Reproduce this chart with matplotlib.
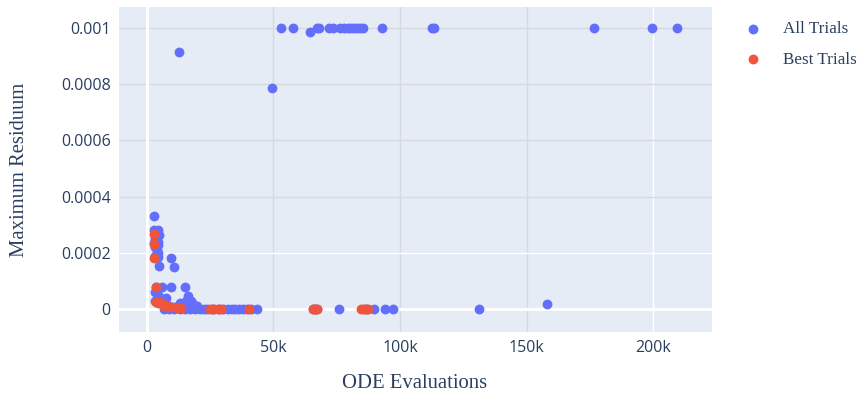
import matplotlib
matplotlib.use("Agg")
import matplotlib.pyplot as plt
import numpy as np

# ---- data (x in ODE evaluations, y = maximum residuum) ----
all_x_k = [
    52.9, 57.6, 67.4, 68.2, 72.1, 73.4, 76.4, 78.0, 79.3, 80.5, 81.7, 83.0, 84.3, 85.2,
    92.8, 112.5, 113.4, 176.6, 199.6, 209.2, 64.5, 12.7, 49.5,
    2.9, 3.0, 4.5, 3.2, 4.8, 3.5, 4.5, 3.0, 4.5, 3.5, 4.0, 4.5, 3.2, 4.3, 4.8, 9.7, 10.7,
    3.8, 6.2, 9.7, 15.0, 3.5, 4.5, 7.8, 16.3, 17.5, 15.5, 18.0, 20.0, 13.0, 6.0, 9.0, 14.5,
    3.5, 4.5, 16.8, 19.0, 11.0,
    7.0, 9.0, 11.0, 13.0, 15.0, 17.0, 19.0, 21.0, 22.5, 24.0, 26.0, 28.0, 30.0, 32.0,
    33.5, 35.0, 36.5, 38.0, 39.5, 41.0, 43.4,
    65.8, 66.5, 67.3, 76.0, 86.0, 87.0, 89.9, 94.1, 97.4, 131.3, 158.0,
]
all_y = [
    0.001, 0.001, 0.001, 0.001, 0.001, 0.001, 0.001, 0.001, 0.001, 0.001, 0.001, 0.001, 0.001, 0.001,
    0.001, 0.001, 0.001, 0.001, 0.001, 0.001, 0.000984, 0.000915, 0.000786,
    0.000330, 0.000280, 0.000280, 0.000265, 0.000262, 0.000250, 0.000240, 0.000235, 0.000228,
    0.000220, 0.000210, 0.000200, 0.000190, 0.000185, 0.000153, 0.000180, 0.000150,
    0.000079, 0.000079, 0.000079, 0.000079, 0.000060, 0.000050, 0.000040, 0.000045, 0.000030,
    0.000030, 0.000020, 0.000010, 0.000020, 0.000030, 0.000010, 0.000010,
    0.000030, 0.000020, 0.000015, 0.000005, 0.000008,
    0.000001, 0.000001, 0.000001, 0.000001, 0.000001, 0.000001, 0.000001, 0.000001, 0.000001,
    0.000001, 0.000001, 0.000001, 0.000001, 0.000001, 0.000001, 0.000001, 0.000001, 0.000001,
    0.000001, 0.000001, 0.000001,
    0.0, 0.0, 0.0, 0.0, 0.0, 0.0, 0.0, 0.0, 0.0, 0.0, 0.000018,
]
best_x_k = [
    2.9, 2.9, 2.9, 3.8, 3.8, 5.0, 5.8, 7.0, 7.7, 9.7, 12.4, 13.5,
    25.0, 25.7, 26.5, 28.7, 29.5, 40.4, 65.6, 66.3, 67.3, 84.5, 85.5, 86.5, 87.5,
]
best_y = [
    0.000267, 0.000230, 0.000183, 0.000079, 0.000026, 0.000025, 0.000020, 0.000010,
    0.000015, 0.000006, 0.000002, 0.000002,
    0.0, 0.0, 0.0, 0.0, 0.0, 0.0, 0.0, 0.0, 0.0, 0.0, 0.0, 0.0, 0.0,
]
x_ticks = [0, 50000, 100000, 150000, 200000]
x_tick_labels = ["0", "50k", "100k", "150k", "200k"]
y_ticks = [0, 0.0002, 0.0004, 0.0006, 0.0008, 0.001]
y_tick_labels = ["0", "0.0002", "0.0004", "0.0006", "0.0008", "0.001"]

all_x = np.array(all_x_k) * 1000
best_x = np.array(best_x_k) * 1000

W, H = 859, 398
fig = plt.figure(figsize=(W / 100, H / 100), dpi=100)
ax = fig.add_axes([119 / W, 1 - 331.7 / H, (711.7 - 119) / W, (331.7 - 7) / H])
ax.set_facecolor("#E5ECF6")
for s in ax.spines.values():
    s.set_visible(False)

ax.set_xlim(-10900, 223000)
ax.set_ylim(-0.0000808, 0.0010747)

# grid lines
gray = "#d6d9de"
for xv, c in zip([50000, 100000, 150000, 200000], [gray, gray, gray, "white"]):
    ax.axvline(xv, color=c, lw=1.0, zorder=0.5)
for yv, c in zip([0.0002, 0.0004, 0.0006, 0.0008, 0.001], ["white", gray, gray, gray, gray]):
    ax.axhline(yv, color=c, lw=1.0, zorder=0.5)
ax.axvline(0, color="white", lw=2.2, zorder=0.6)
ax.axhline(0, color="white", lw=2.2, zorder=0.6)

ms = 50
ax.scatter(all_x, all_y, s=ms, color="#636EFA", linewidths=0, zorder=2, label="All Trials")
ax.scatter(best_x, best_y, s=ms, color="#EF553B", linewidths=0, zorder=3, label="Best Trials")

tick_col = "#2a3f5f"
ax.set_xticks(x_ticks)
ax.set_xticklabels(x_tick_labels)
ax.set_yticks(y_ticks)
ax.set_yticklabels(y_tick_labels)
ax.tick_params(axis="both", length=0, labelsize=11.5, labelcolor=tick_col)
ax.tick_params(axis="x", pad=6)
ax.tick_params(axis="y", pad=6)
for lab in ax.get_xticklabels() + ax.get_yticklabels():
    lab.set_fontfamily("Open Sans")

fig.text(414.5 / W, 1 - 384 / H, "ODE Evaluations", ha="center", va="center",
         fontsize=14.85, family="Liberation Serif", color=tick_col)
fig.text(20 / W, 1 - 169.5 / H, "Maximum Residuum", ha="center", va="center", rotation=90,
         fontsize=14.85, family="Liberation Serif", color=tick_col)

leg = fig.legend(loc="upper left", bbox_to_anchor=(736 / W, 1 - 21 / H), frameon=False,
                 prop={"family": "Liberation Serif", "size": 12.3}, handlelength=2.0,
                 handletextpad=0.76, labelspacing=0.85, markerscale=1.0,
                 borderpad=0, borderaxespad=0, scatterpoints=1)
for t in leg.get_texts():
    t.set_color(tick_col)

fig.savefig("out.png", dpi=100)
